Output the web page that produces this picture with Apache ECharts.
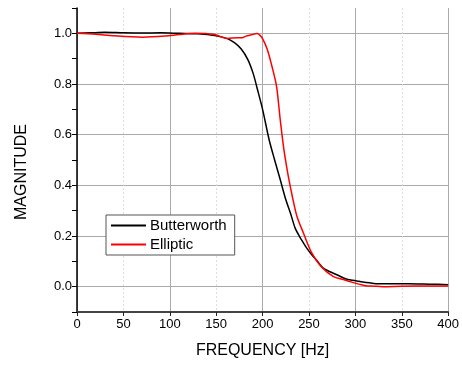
<!DOCTYPE html>
<html>
<head>
<meta charset="utf-8">
<script src="https://cdn.jsdelivr.net/npm/echarts@6/dist/echarts.min.js"></script>
<style>html,body{margin:0;padding:0;background:#fff}#c{width:462px;height:365px}</style>
</head>
<body>
<div id="c"></div>
<script>
var butterFreq = [0,15,30,50,70,90,110,130,150,162,170,177,184,190,194,200,207,213,219,225,230,235,240,244,248,253,258,265,272,280,290,297,304,315,322,340,357,380,400];
var butterMag  = [1.0,1.002,1.004,1.002,1.001,1.002,1.0,0.998,0.99,0.979,0.962,0.938,0.897,0.84,0.785,0.70,0.581,0.5,0.423,0.344,0.291,0.232,0.197,0.173,0.15,0.126,0.105,0.074,0.06,0.047,0.030,0.025,0.021,0.015,0.012,0.012,0.012,0.01,0.008];
var ellipFreq = [0,20,40,70,95,110,127,148,162,173,178,182,188,194,197,200,205,210,215,219,223,228,232,237,244,253,263,276,287,297,304,311,320,329,350,380,400];
var ellipMag  = [1.0,0.996,0.99,0.985,0.989,0.995,1.0,0.995,0.98,0.983,0.983,0.989,0.994,0.999,0.993,0.979,0.937,0.871,0.792,0.66,0.541,0.43,0.357,0.278,0.212,0.133,0.08,0.041,0.028,0.017,0.01,0.004,0.002,0.0,0.002,0.003,0.003];
var seriesNames = ['Butterworth','Elliptic'];
var xTitle = 'FREQUENCY [Hz]';
var yTitle = 'MAGNITUDE';

function pairs(a,b){return a.map(function(v,i){return [v,b[i]];});}
var FONT = '"Liberation Sans", Arial, sans-serif';
var chart = echarts.init(document.getElementById('c'));
chart.setOption({
  animation:false,
  grid:{left:77,right:9,top:8,bottom:53},
  legend:{
    orient:'vertical', left:106, top:215, width:131,
    backgroundColor:'#fff', borderColor:'#555', borderWidth:1, borderRadius:0,
    padding:[3,8,3,5], itemGap:4, itemWidth:35, itemHeight:2,
    icon:'rect',
    textStyle:{fontFamily:FONT,fontSize:15,color:'#000',padding:[0,0,0,-1],lineHeight:15},
    data:seriesNames
  },
  xAxis:[{
    type:'value', min:0, max:400, interval:50,
    axisLine:{show:true,onZero:false,lineStyle:{color:'#444',width:2}},
    axisTick:{show:true,length:4,lineStyle:{color:'#222',width:1}},
    axisLabel:{fontFamily:FONT,fontSize:13,color:'#000',margin:6},
    splitLine:{show:true,lineStyle:{color:'#ddd',type:[2,2],width:1}},
    name:xTitle, nameLocation:'middle', nameGap:31,
    nameTextStyle:{fontFamily:FONT,fontSize:16,color:'#000'}
  },{
    type:'value', min:0, max:400, interval:100,
    axisLine:{show:false}, axisTick:{show:false}, axisLabel:{show:false},
    splitLine:{show:true,lineStyle:{color:'#aaa',width:1}}
  }],
  yAxis:{
    type:'value', min:-0.1, max:1.1, interval:0.1,
    axisLine:{show:true,onZero:false,lineStyle:{color:'#000',width:1.5}},
    axisTick:{show:true,length:5,lineStyle:{color:'#000',width:1}},
    axisLabel:{fontFamily:FONT,fontSize:13,color:'#000',margin:5,
      formatter:function(v){var k=Math.round(v*10);return (k%2===0 && k>=0 && k<=10)?(k/10).toFixed(1):'';}},
    splitLine:{show:true,lineStyle:{color:['rgba(0,0,0,0)','#aaa'],width:1}},
    name:yTitle, nameLocation:'middle', nameGap:47, nameRotate:90,
    nameTextStyle:{fontFamily:FONT,fontSize:16,color:'#000',padding:[0,24,0,0]}
  },
  series:[{
    name:seriesNames[0], type:'line', xAxisIndex:0, symbol:'none', smooth:0.3,
    lineStyle:{color:'#000',width:1.5}, itemStyle:{color:'#000'},
    data:pairs(butterFreq,butterMag), z:2
  },{
    name:seriesNames[1], type:'line', xAxisIndex:0, symbol:'none', smooth:0.3,
    lineStyle:{color:'#ff0000',width:1.5}, itemStyle:{color:'#ff0000'},
    data:pairs(ellipFreq,ellipMag), z:3
  }]
});
</script>
</body>
</html>
